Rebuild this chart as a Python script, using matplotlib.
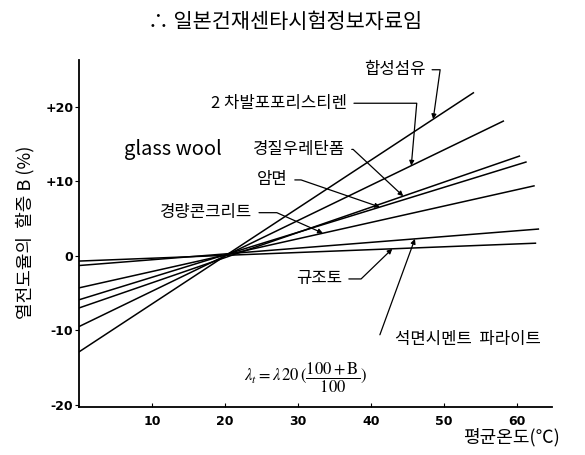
import numpy as np
import matplotlib.pyplot as plt

plt.rcParams['font.family'] = ['Noto Sans CJK KR', 'DejaVu Sans']
plt.rcParams['mathtext.fontset'] = 'stix'

# 재료별 온도-할증 직선 (양 끝점)
materials = ['합성섬유', '2 차발포포리스티렌', '경질우레탄폼', '암면',
             '경량콘크리트', '석면시멘트  파라이트', '규조토']
t_start = [0, 0, 0, 0, 0, 0, 0]
t_end = [54.0, 58.1, 60.3, 61.2, 62.3, 62.9, 62.5]
b_start = [-12.9, -9.5, -7.0, -5.9, -4.3, -1.3, -0.7]
b_end = [21.9, 18.1, 13.4, 12.6, 9.4, 3.6, 1.7]

x_ticks = [10, 20, 30, 40, 50, 60]
y_ticks = [-20, -10, 0, 10, 20]
y_ticklabels = ['-20', '-10', '0', '+10', '+20']

fig = plt.figure(figsize=(5.85, 4.55), dpi=100)
ax = fig.add_axes([0.135, 0.1055, 0.809, 0.7625])

for i in range(len(materials)):
    ax.plot([t_start[i], t_end[i]], [b_start[i], b_end[i]], c='black', lw=1.1)

ax.set_xlim(0, 64.8)
ax.set_ylim(-20.3, 26.3)
for s in ['top', 'right']:
    ax.spines[s].set_visible(False)
for s in ['left', 'bottom']:
    ax.spines[s].set_linewidth(1.3)
ax.set_xticks(x_ticks)
ax.set_xticklabels([str(v) for v in x_ticks], fontsize=9, fontweight='bold', family='DejaVu Sans')
ax.set_yticks(y_ticks)
ax.set_yticklabels(y_ticklabels, fontsize=9, fontweight='bold', family='DejaVu Sans')
ax.tick_params(axis='x', direction='in', length=3, pad=6)
ax.tick_params(axis='y', direction='out', length=3, pad=1)


def on_line(i, t):
    return np.interp(t, [t_start[i], t_end[i]], [b_start[i], b_end[i]])


# 라벨 위치: (글자 x, 글자 y, 화살표 x, 꺾임 각도)
leaders = {
    0: (47.4, 25.0, 48.5, 82),
    1: (36.7, 20.5, 45.5, 85),
    2: (36.4, 14.3, 44.4, 137),
    3: (28.6, 10.2, 41.2, 161),
    4: (23.7, 5.8, 33.4, 156),
    6: (36.0, -3.1, 42.9, 224),
}
for i, (tx, ty, ax_x, angle) in leaders.items():
    ax.annotate(materials[i], xy=(ax_x, on_line(i, ax_x)), xytext=(tx, ty),
                ha='right', va='center', fontsize=12,
                arrowprops=dict(arrowstyle='-|>', color='black', lw=0.9,
                                mutation_scale=7, relpos=(1, 0.5), shrinkA=3, shrinkB=0,
                                connectionstyle='angle,angleA=0,angleB=%d,rad=0' % angle))

# 경질우레탄폼 앞의 영문 표기
ax.text(19.6, 14.3, 'glass wool', ha='right', va='center', fontsize=14.5)

# 석면시멘트 파라이트
ax.text(43.3, -11.3, materials[5], ha='left', va='center', fontsize=12)
ax.annotate('', xy=(46.0, on_line(5, 46.0)), xytext=(41.2, -10.6),
            arrowprops=dict(arrowstyle='-|>', color='black', lw=0.9,
                            mutation_scale=7, shrinkA=0, shrinkB=0))

ax.text(31, -16.4, r'$\lambda_t = \lambda\,20\,(\dfrac{100+\mathrm{B}}{100})$',
        ha='center', va='center', fontsize=12)

fig.text(0.487, 0.952, '∴ 일본건재센타시험정보자료임', ha='center', va='center', fontsize=15)
fig.text(0.957, 0.04, '평균온도(℃)', ha='right', va='center', fontsize=13)
fig.text(0.043, 0.49, '열전도율의  할증 B (%)', ha='center', va='center',
         rotation=90, fontsize=13)

fig.savefig('out.png', dpi=100)
